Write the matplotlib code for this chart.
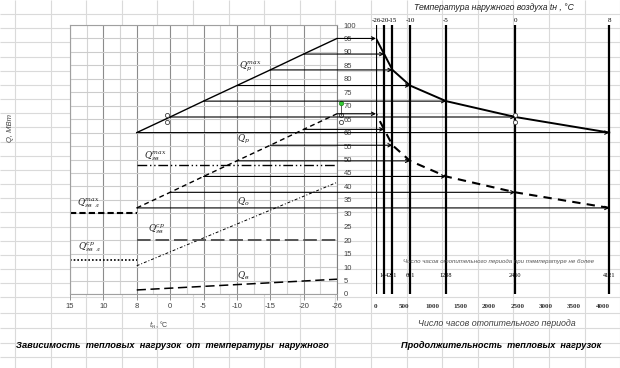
import matplotlib.pyplot as plt
from matplotlib.patches import ConnectionPatch
import numpy as np

plt.rcParams['font.family'] = ['Liberation Sans', 'DejaVu Sans']
plt.rcParams['mathtext.fontset'] = 'dejavuserif'

W, H = 620, 368

# left chart: heat loads vs outdoor temperature (category axis)
temps = ['15', '10', '8', '0', '-5', '-10', '-15', '-20', '-26']
heat_idx = [2, 3, 4, 5, 6, 7, 8]                 # 8 ... -26 °C
q_max = [60, 65.8, 71.7, 77.5, 83.3, 89.2, 95]   # Q_p^max
q_p = [32, 37.8, 43.7, 49.5, 55.3, 61.2, 67]     # Q_p
q_o_ends = [10.5, 41.5]                          # Q_o at 8 and -26
q_v_ends = [1.5, 5.5]                            # Q_v at 8 and -26
q_gv_max = 48
q_gv_sr = 20
summer_idx = [0, 2]                              # 15 ... 8 °C
q_gv_max_l = 30
q_gv_sr_l = 12.8

# right chart: duration of heat loads
hours = [4121, 2460, 1238, 601, 291, 144, 0]
hour_temps = ['8', '0', '-5', '-10', '-15', '-20', '-26']
hour_ticks = [0, 500, 1000, 1500, 2000, 2500, 3000, 3500, 4000]

# shape selection handles visible on the screenshot
handles_left = [(2.92, 66.5), (2.92, 64.0), (8.12, 66.5), (8.12, 64.0)]
handles_right = [(2460, 66.5), (2460, 64.0)]


def px_box(x0, y0, x1, y1):
    return [x0 / W, 1 - y1 / H, (x1 - x0) / W, (y1 - y0) / H]


def ftext(x, y, s, **kw):
    fig.text(x / W, 1 - y / H, s, **kw)


fig = plt.figure(figsize=(W / 100, H / 100), dpi=100)

# spreadsheet cell grid in the background
bg = fig.add_axes([0, 0, 1, 1])
bg.set_xlim(0, W)
bg.set_ylim(H, 0)
bg.axis('off')
cols = 15 + 35.6 * np.arange(18)
rows = list(14 + 14.17 * np.arange(21)) + [313, 328, 343, 357]
bg.vlines(cols, 0, H, color='#dadada', lw=0.8)
bg.hlines(rows, 0, W, color='#dadada', lw=0.8)

# ---- left chart
ax1 = fig.add_axes(px_box(70, 25, 337, 294))
ax1.set_facecolor('white')
ax1.set_xlim(0, 8)
ax1.set_ylim(0, 100)
ax1.set_xticks(range(9))
ax1.set_xticklabels(temps)
ax1.set_xticks(np.arange(0.5, 8, 1), minor=True)
ax1.set_yticks(range(0, 101, 5))
ax1.yaxis.tick_right()
ax1.tick_params(axis='y', length=0, pad=5, labelsize=5.5, labelcolor='#404040')
ax1.tick_params(axis='x', which='major', length=4.5, width=0.7, color='#909090',
                pad=2.0, labelsize=5.5, labelcolor='#404040')
ax1.tick_params(axis='x', which='minor', length=0)
ax1.grid(True, which='major', axis='x', color='#8c8c8c', lw=0.8)
ax1.grid(True, which='minor', axis='x', color='#d4d4d4', lw=0.8)
ax1.grid(True, which='major', axis='y', color='#cccccc', lw=0.8)
ax1.set_axisbelow(True)
for side, sp in ax1.spines.items():
    sp.set_color('#a0a0a0')
    sp.set_linewidth(0.8)
ax1.spines['right'].set_color('#808080')

ax1.plot(heat_idx, q_max, color='black', lw=1.0)
ax1.plot(heat_idx, q_p, color='black', lw=1.0, ls=(0, (3.5, 2.5)))
ax1.plot([heat_idx[0], heat_idx[-1]], q_o_ends, color='black', lw=0.7,
         ls=(0, (3, 2, 1, 2)))
ax1.plot([heat_idx[0], heat_idx[-1]], q_v_ends, color='black', lw=1.1,
         ls=(0, (6, 3)))
ax1.plot([heat_idx[0], heat_idx[-1]], [q_gv_max] * 2, color='black', lw=1.0,
         ls=(0, (7, 2, 1, 2, 1, 2)))
ax1.plot([heat_idx[0], heat_idx[-1]], [q_gv_sr] * 2, color='#555555', lw=1.4,
         ls=(0, (7, 2.5)))
ax1.plot(summer_idx, [q_gv_max_l] * 2, color='black', lw=1.5, ls=(0, (3, 1.5)))
ax1.plot(summer_idx, [q_gv_sr_l] * 2, color='black', lw=1.2, ls=(0, (1, 1.2)))

lab_kw = dict(fontsize=6.3, va='center', ha='left', color='#202020')
ax1.text(5.05, 84.5, r'$\mathit{Q}_{р}^{max}$', **lab_kw)
ax1.text(5.0, 57.6, r'$\mathit{Q}_{р}$', **lab_kw)
ax1.text(2.22, 51.3, r'$\mathit{Q}_{гв}^{max}$', **lab_kw)
ax1.text(0.22, 33.8, r'$\mathit{Q}_{гв\ \ л}^{max}$', **lab_kw)
ax1.text(2.35, 24.0, r'$\mathit{Q}_{гв}^{ср}$', **lab_kw)
ax1.text(0.25, 17.5, r'$\mathit{Q}_{гв\ \ л}^{ср}$', **lab_kw)
ax1.text(5.0, 34.2, r'$\mathit{Q}_{о}$', **lab_kw)
ax1.text(5.0, 6.7, r'$\mathit{Q}_{в}$', **lab_kw)

# ---- right chart
ax2 = fig.add_axes(px_box(376, 25, 620, 294))
ax2.set_facecolor('none')
ax2.set_xlim(0, 244 / 0.0566)
ax2.set_ylim(0, 100)
for sp in ax2.spines.values():
    sp.set_visible(False)
ax2.set_yticks([])
ax2.set_xticks(hour_ticks)
ax2.tick_params(axis='x', length=0, pad=7, labelsize=5)
for lbl in ax2.get_xticklabels():
    lbl.set_family('Liberation Serif')
    lbl.set_fontweight('bold')
    lbl.set_color('#303030')

ax2.vlines(hours, 0, 100, color='black', lw=1.6)
ax2.plot(hours, q_max, color='black', lw=1.4)
ax2.plot(hours, q_p, color='black', lw=1.5, ls=(0, (4, 3)))

for h, t in zip(hours, hour_temps):
    ax2.text(h, 100.8, t, ha='center', va='bottom', fontsize=5,
             family='Liberation Serif', clip_on=False)
    if h > 0:
        ax2.text(h, 6.7, str(h), ha='center', va='center', fontsize=4.5,
                 family='Liberation Serif', clip_on=False)

ax2.text(2170, 11.9, 'Число часов отопительного периода при температуре не более',
         ha='center', va='center', fontsize=4.45, style='italic', color='#555555')

# projection arrows from the left chart to the duration curves
for series in (q_max, q_p):
    for i, h, v in zip(heat_idx, hours, series):
        con = ConnectionPatch(xyA=(i, v), coordsA=ax1.transData,
                              xyB=(h, v), coordsB=ax2.transData,
                              arrowstyle='->', mutation_scale=6, lw=0.8,
                              color='black', shrinkA=0, shrinkB=0)
        fig.add_artist(con)

hx, hy = zip(*handles_left)
ax1.plot(hx, hy, ls='none', marker='o', ms=3, mfc='white', mec='#404040',
         mew=0.6, clip_on=False, zorder=5)
hx, hy = zip(*handles_right)
ax2.plot(hx, hy, ls='none', marker='o', ms=3, mfc='white', mec='#404040',
         mew=0.6, clip_on=False, zorder=5)
ax1.plot([8.12, 8.12], [71.0, 66.5], color='#404040', lw=0.6, clip_on=False, zorder=5)
ax1.plot([8.12], [71.0], ls='none', marker='o', ms=3.2, mfc='#33cc33', mec='#228822',
         mew=0.5, clip_on=False, zorder=6)

# ---- texts around the charts
ftext(494, 8, 'Температура наружного воздуха tн , °С', ha='center', va='center',
      fontsize=6.2, style='italic', color='#202020')
ftext(497, 323, 'Число часов отопительного периода', ha='center', va='center',
      fontsize=6.4, style='italic', color='#404040')
ftext(159, 325, r'$t_н$, °С', ha='center', va='center', fontsize=5, color='#404040')
ftext(10, 128, 'Q, МВт', ha='center', va='center', rotation=90, fontsize=5.5,
      style='italic', color='#404040')
ftext(172, 346, 'Зависимость  тепловых  нагрузок  от  температуры  наружного',
      ha='center', va='center', fontsize=6.7, style='italic', weight='bold')
ftext(501, 346, 'Продолжительность  тепловых  нагрузок',
      ha='center', va='center', fontsize=6.6, style='italic', weight='bold')

fig.savefig('out.png', dpi=100)
